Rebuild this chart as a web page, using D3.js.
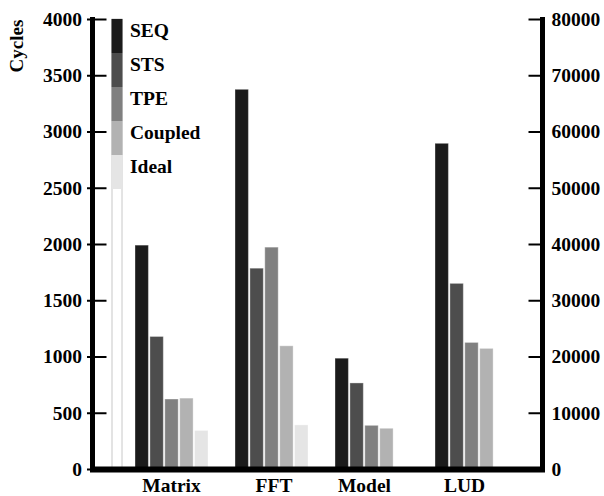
<!DOCTYPE html>
<html><head><meta charset="utf-8">
<script src="https://cdn.jsdelivr.net/npm/d3@7"></script>
<style>body{margin:0;background:#fff}svg{display:block}</style>
</head><body><svg id="c" width="604" height="496"></svg>
<script>
const categories = ["Matrix", "FFT", "Model", "LUD"];
const seriesNames = ["SEQ", "STS", "TPE", "Coupled", "Ideal"];
const seriesColors = ["#1b1b1b", "#4d4d4d", "#808080", "#b2b2b2", "#e5e5e5"];
const SEQ = [1990, 3375, 985, 2895];
const STS = [1178, 1785, 765, 1650];
const TPE = [622, 1972, 388, 1125];
const Coupled = [630, 1095, 362, 1072];
const Ideal = [343, 392, null, null];
const leftTicks = [0, 500, 1000, 1500, 2000, 2500, 3000, 3500, 4000];
const rightTicks = [0, 10000, 20000, 30000, 40000, 50000, 60000, 70000, 80000];
const seriesValues = [SEQ, STS, TPE, Coupled, Ideal];

const svg = d3.select("#c");
const font = "'Liberation Serif','Times New Roman',serif";
const fs = 19.5;
const y = d3.scaleLinear().domain([0, 4000]).range([469, 19]);
const yR = d3.scaleLinear().domain([0, 80000]).range([469, 19]);
const x0 = d3.scaleBand().domain(categories).range([135, 508]).paddingInner(0.27).paddingOuter(0);
const x1 = d3.scaleBand().domain(seriesNames).range([0, x0.bandwidth()]).paddingInner(0.1);

// legend column
const lg = svg.append("g");
lg.append("rect").attr("x", 112).attr("y", 19).attr("width", 10).attr("height", y(0) - 19)
  .attr("fill", "#fff").attr("stroke", "#c8c8c8").attr("stroke-width", 1);
const sw = 34;
seriesNames.forEach((s, i) => {
  lg.append("rect").attr("x", 111.5).attr("y", 19 + i * sw).attr("width", 11).attr("height", sw)
    .attr("fill", seriesColors[i]);
  lg.append("text").attr("x", 130).attr("y", 19 + i * sw + 18)
    .attr("font-family", font).attr("font-weight", "bold").attr("font-size", fs).text(s);
});

// bars
const bars = svg.append("g");
seriesValues.forEach((vals, si) => {
  vals.forEach((v, ci) => {
    if (v == null) return;
    bars.append("rect")
      .attr("x", x0(categories[ci]) + x1(seriesNames[si]))
      .attr("y", y(v))
      .attr("width", x1.bandwidth())
      .attr("height", y(0) - y(v))
      .attr("fill", seriesColors[si])
      .attr("stroke", "rgba(255,255,255,0.35)").attr("stroke-width", 1);
  });
});

// left axis
const la = svg.append("g").attr("transform", "translate(92.5,0)")
  .call(d3.axisLeft(y).tickValues(leftTicks).tickSize(0).tickPadding(10.5).tickFormat(d3.format("d")));
la.select(".domain").remove();
la.selectAll("text").attr("font-family", font).attr("font-weight", "bold").attr("font-size", fs).attr("fill", "#000");
la.selectAll(".tick").append("line").attr("x1", -5.5).attr("x2", 14).attr("stroke", "#000").attr("stroke-width", 2);
svg.append("line").attr("x1", 92.5).attr("x2", 92.5).attr("y1", 17).attr("y2", 472).attr("stroke", "#000").attr("stroke-width", 5);

// right axis
const ra = svg.append("g").attr("transform", "translate(542.5,0)")
  .call(d3.axisRight(yR).tickValues(rightTicks).tickSize(0).tickPadding(9).tickFormat(d3.format("d")));
ra.select(".domain").remove();
ra.selectAll("text").attr("font-family", font).attr("font-weight", "bold").attr("font-size", fs).attr("fill", "#000");
ra.selectAll(".tick").append("line").attr("x1", -14).attr("x2", 0).attr("stroke", "#000").attr("stroke-width", 2);
svg.append("line").attr("x1", 542.5).attr("x2", 542.5).attr("y1", 17).attr("y2", 472).attr("stroke", "#000").attr("stroke-width", 5);

// bottom axis
svg.append("line").attr("x1", 90).attr("x2", 545).attr("y1", 469.5).attr("y2", 469.5).attr("stroke", "#000").attr("stroke-width", 6);
const ba = svg.append("g").attr("transform", "translate(0,469)")
  .call(d3.axisBottom(x0).tickSize(0).tickPadding(9));
ba.select(".domain").remove();
ba.selectAll("text").attr("font-family", font).attr("font-weight", "bold").attr("font-size", fs).attr("fill", "#000")
  .attr("dx", (d, i) => (i === 1 ? 2.5 : i >= 2 ? -7 : 0));

// y label
svg.append("text").attr("transform", "translate(16,46) rotate(-90)").attr("text-anchor", "middle")
  .attr("dy", "0.35em").attr("font-family", font).attr("font-weight", "bold").attr("font-size", 19).text("Cycles");
</script></body></html>
